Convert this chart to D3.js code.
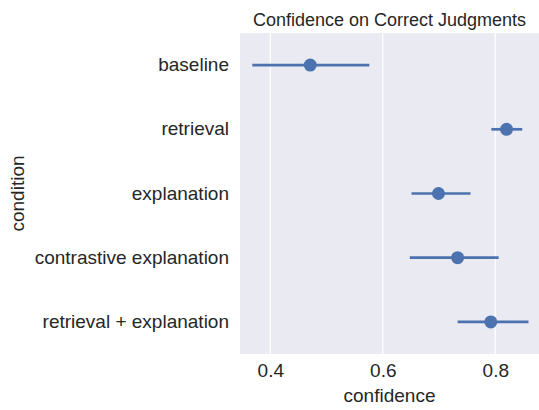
<!DOCTYPE html>
<html>
<head>
<meta charset="utf-8">
<script src="https://cdn.jsdelivr.net/npm/d3@7"></script>
<style>
  body { margin: 0; background: #fff; }
  svg { display: block; font-family: "Liberation Sans", Arial, sans-serif; }
</style>
</head>
<body>
<div id="chart"></div>
<script>
// 数据
const conditions = ['baseline', 'retrieval', 'explanation', 'contrastive explanation', 'retrieval + explanation'];
const means = [0.471, 0.820, 0.699, 0.733, 0.792];
const ciLow = [0.368, 0.793, 0.651, 0.648, 0.733];
const ciHigh = [0.576, 0.848, 0.756, 0.806, 0.859];
const xTicks = [0.4, 0.6, 0.8];

const W = 539, H = 410;
const margin = { top: 33, right: 0, bottom: 56, left: 240 };
const width = W - margin.left - margin.right,
      height = H - margin.top - margin.bottom;

const svg = d3.select('#chart').append('svg')
  .attr('width', W).attr('height', H);
const g = svg.append('g').attr('transform', `translate(${margin.left},${margin.top})`);

// 比例尺
const x = d3.scaleLinear().domain([0.3461, 0.8777]).range([0, width]);
const y = d3.scaleBand().domain(conditions).range([0, height]);

// 背景
g.append('rect').attr('width', width).attr('height', height).attr('fill', '#eaeaf2');

// 网格线
g.selectAll('.grid')
  .data(xTicks)
  .enter()
  .append('line')
  .attr('x1', d => x(d)).attr('x2', d => x(d))
  .attr('y1', 0).attr('y2', height)
  .attr('stroke', '#fff').attr('stroke-width', 1.2);

// 坐标轴
const xAxis = g.append('g')
  .attr('transform', `translate(0,${height})`)
  .call(d3.axisBottom(x).tickValues(xTicks).tickSize(0).tickPadding(10).tickFormat(d3.format('.1f')));
xAxis.select('.domain').remove();
xAxis.selectAll('text').style('font-size', '19px').style('fill', '#262626');

const yAxis = g.append('g')
  .call(d3.axisLeft(y).tickSize(0).tickPadding(11));
yAxis.select('.domain').remove();
yAxis.selectAll('text').style('font-size', '19px').style('fill', '#262626');

// 误差线
const color = '#4c72b0';
g.selectAll('.ci')
  .data(conditions)
  .enter()
  .append('line')
  .attr('x1', (d, i) => x(ciLow[i]))
  .attr('x2', (d, i) => x(ciHigh[i]))
  .attr('y1', d => y(d) + y.bandwidth() / 2)
  .attr('y2', d => y(d) + y.bandwidth() / 2)
  .attr('stroke', color).attr('stroke-width', 2.7);

// 点
g.selectAll('.pt')
  .data(conditions)
  .enter()
  .append('circle')
  .attr('cx', (d, i) => x(means[i]))
  .attr('cy', d => y(d) + y.bandwidth() / 2)
  .attr('r', 6.5)
  .attr('fill', color);

// 标题和轴标签
svg.append('text')
  .attr('x', margin.left + width / 2).attr('y', 26)
  .attr('text-anchor', 'middle')
  .style('font-size', '18px').style('fill', '#262626')
  .text('Confidence on Correct Judgments');

svg.append('text')
  .attr('x', margin.left + width / 2).attr('y', 402)
  .attr('text-anchor', 'middle')
  .style('font-size', '19px').style('fill', '#262626')
  .text('confidence');

svg.append('text')
  .attr('transform', `translate(24,${margin.top + height / 2}) rotate(-90)`)
  .attr('text-anchor', 'middle')
  .style('font-size', '19px').style('fill', '#262626')
  .text('condition');
</script>
</body>
</html>
